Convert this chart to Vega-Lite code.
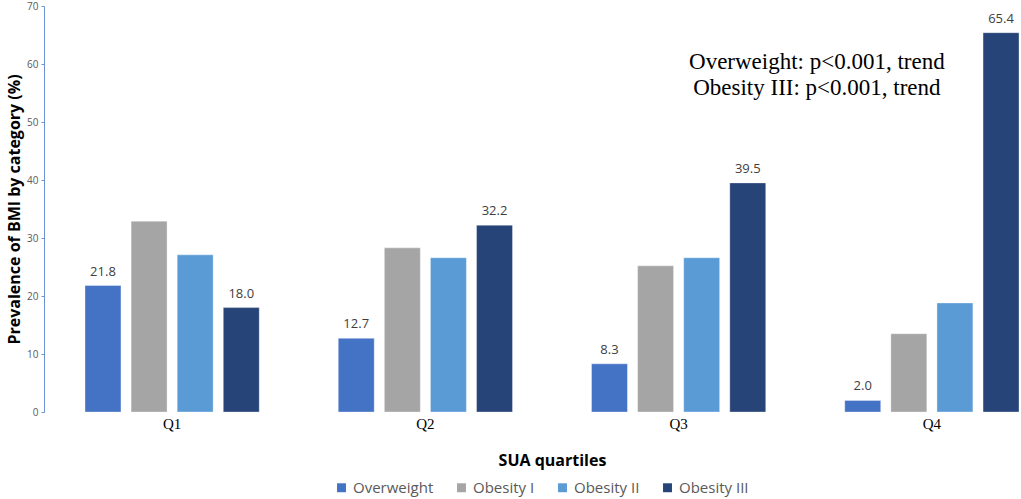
{
  "$schema": "https://vega.github.io/schema/vega-lite/v6.json",
  "width": 977,
  "height": 406,
  "autosize": {"type": "none"},
  "padding": {"left": 44, "top": 6, "right": 0, "bottom": 87},
  "background": "white",
  "config": {
    "view": {"stroke": null},
    "font": "Open Sans"
  },
  "datasets": {
    "bmi": [
      {"quartile": "Q1", "category": "Overweight", "value": 21.8},
      {"quartile": "Q1", "category": "Obesity I", "value": 32.9},
      {"quartile": "Q1", "category": "Obesity II", "value": 27.1},
      {"quartile": "Q1", "category": "Obesity III", "value": 18.0},
      {"quartile": "Q2", "category": "Overweight", "value": 12.7},
      {"quartile": "Q2", "category": "Obesity I", "value": 28.3},
      {"quartile": "Q2", "category": "Obesity II", "value": 26.6},
      {"quartile": "Q2", "category": "Obesity III", "value": 32.2},
      {"quartile": "Q3", "category": "Overweight", "value": 8.3},
      {"quartile": "Q3", "category": "Obesity I", "value": 25.2},
      {"quartile": "Q3", "category": "Obesity II", "value": 26.6},
      {"quartile": "Q3", "category": "Obesity III", "value": 39.5},
      {"quartile": "Q4", "category": "Overweight", "value": 2.0},
      {"quartile": "Q4", "category": "Obesity I", "value": 13.5},
      {"quartile": "Q4", "category": "Obesity II", "value": 18.8},
      {"quartile": "Q4", "category": "Obesity III", "value": 65.4}
    ],
    "notes": [
      {"text": "Overweight: p<0.001, trend", "y": 60.4},
      {"text": "Obesity III: p<0.001, trend", "y": 55.8}
    ]
  },
  "layer": [
    {
      "data": {"name": "bmi"},
      "mark": {"type": "bar", "stroke": "white", "strokeOpacity": 0.35, "strokeWidth": 1},
      "encoding": {
        "x": {
          "field": "quartile",
          "type": "nominal",
          "title": "SUA quartiles",
          "scale": {"range": [41, 975], "paddingInner": 0.312, "paddingOuter": 0},
          "axis": {
            "labelAngle": 0,
            "domain": false,
            "ticks": false,
            "labelFont": "Liberation Serif",
            "labelFontSize": 15,
            "labelColor": "#000000",
            "labelPadding": 4,
            "titleFont": "Open Sans",
            "titleFontSize": 16,
            "titleFontWeight": "bold",
            "titleColor": "#000000",
            "titlePadding": 21
          }
        },
        "xOffset": {
          "field": "category",
          "type": "nominal",
          "sort": ["Overweight", "Obesity I", "Obesity II", "Obesity III"],
          "scale": {"paddingInner": 0.22, "paddingOuter": 0}
        },
        "y": {
          "field": "value",
          "type": "quantitative",
          "title": "Prevalence of BMI by category (%)",
          "scale": {"domain": [0, 70]},
          "axis": {
            "values": [0, 10, 20, 30, 40, 50, 60, 70],
            "grid": false,
            "domainColor": "#6f94d6",
            "tickColor": "#6f94d6",
            "tickSize": 3,
            "labelFontSize": 10,
            "labelColor": "#595959",
            "labelPadding": 3,
            "titleFontSize": 16,
            "titleFontWeight": "bold",
            "titleColor": "#000000",
            "titlePadding": 4
          }
        },
        "color": {
          "field": "category",
          "type": "nominal",
          "sort": ["Overweight", "Obesity I", "Obesity II", "Obesity III"],
          "scale": {
            "domain": ["Overweight", "Obesity I", "Obesity II", "Obesity III"],
            "range": ["#4472C4", "#A5A5A5", "#5B9BD5", "#264478"]
          },
          "legend": {
            "title": null,
            "orient": "none",
            "legendX": 290,
            "legendY": 474,
            "direction": "horizontal",
            "symbolType": "square",
            "symbolSize": 80,
            "symbolStrokeWidth": 0,
            "labelFontSize": 15,
            "labelColor": "#595959",
            "columnPadding": 20
          }
        }
      }
    },
    {
      "data": {"name": "bmi"},
      "transform": [{"filter": "datum.category === 'Overweight' || datum.category === 'Obesity III'"}],
      "mark": {"type": "text", "baseline": "bottom", "dy": -7, "fontSize": 13, "color": "#404040"},
      "encoding": {
        "x": {"field": "quartile", "type": "nominal"},
        "xOffset": {"field": "category", "type": "nominal", "sort": ["Overweight", "Obesity I", "Obesity II", "Obesity III"]},
        "y": {"field": "value", "type": "quantitative"},
        "text": {"field": "value", "type": "quantitative", "format": ".1f"}
      }
    },
    {
      "data": {"name": "notes"},
      "mark": {"type": "text", "font": "Liberation Serif", "fontSize": 23, "color": "#000000", "baseline": "middle", "dx": -115},
      "encoding": {
        "x": {"datum": "Q4"},
        "y": {"field": "y", "type": "quantitative"},
        "text": {"field": "text"}
      }
    }
  ]
}
